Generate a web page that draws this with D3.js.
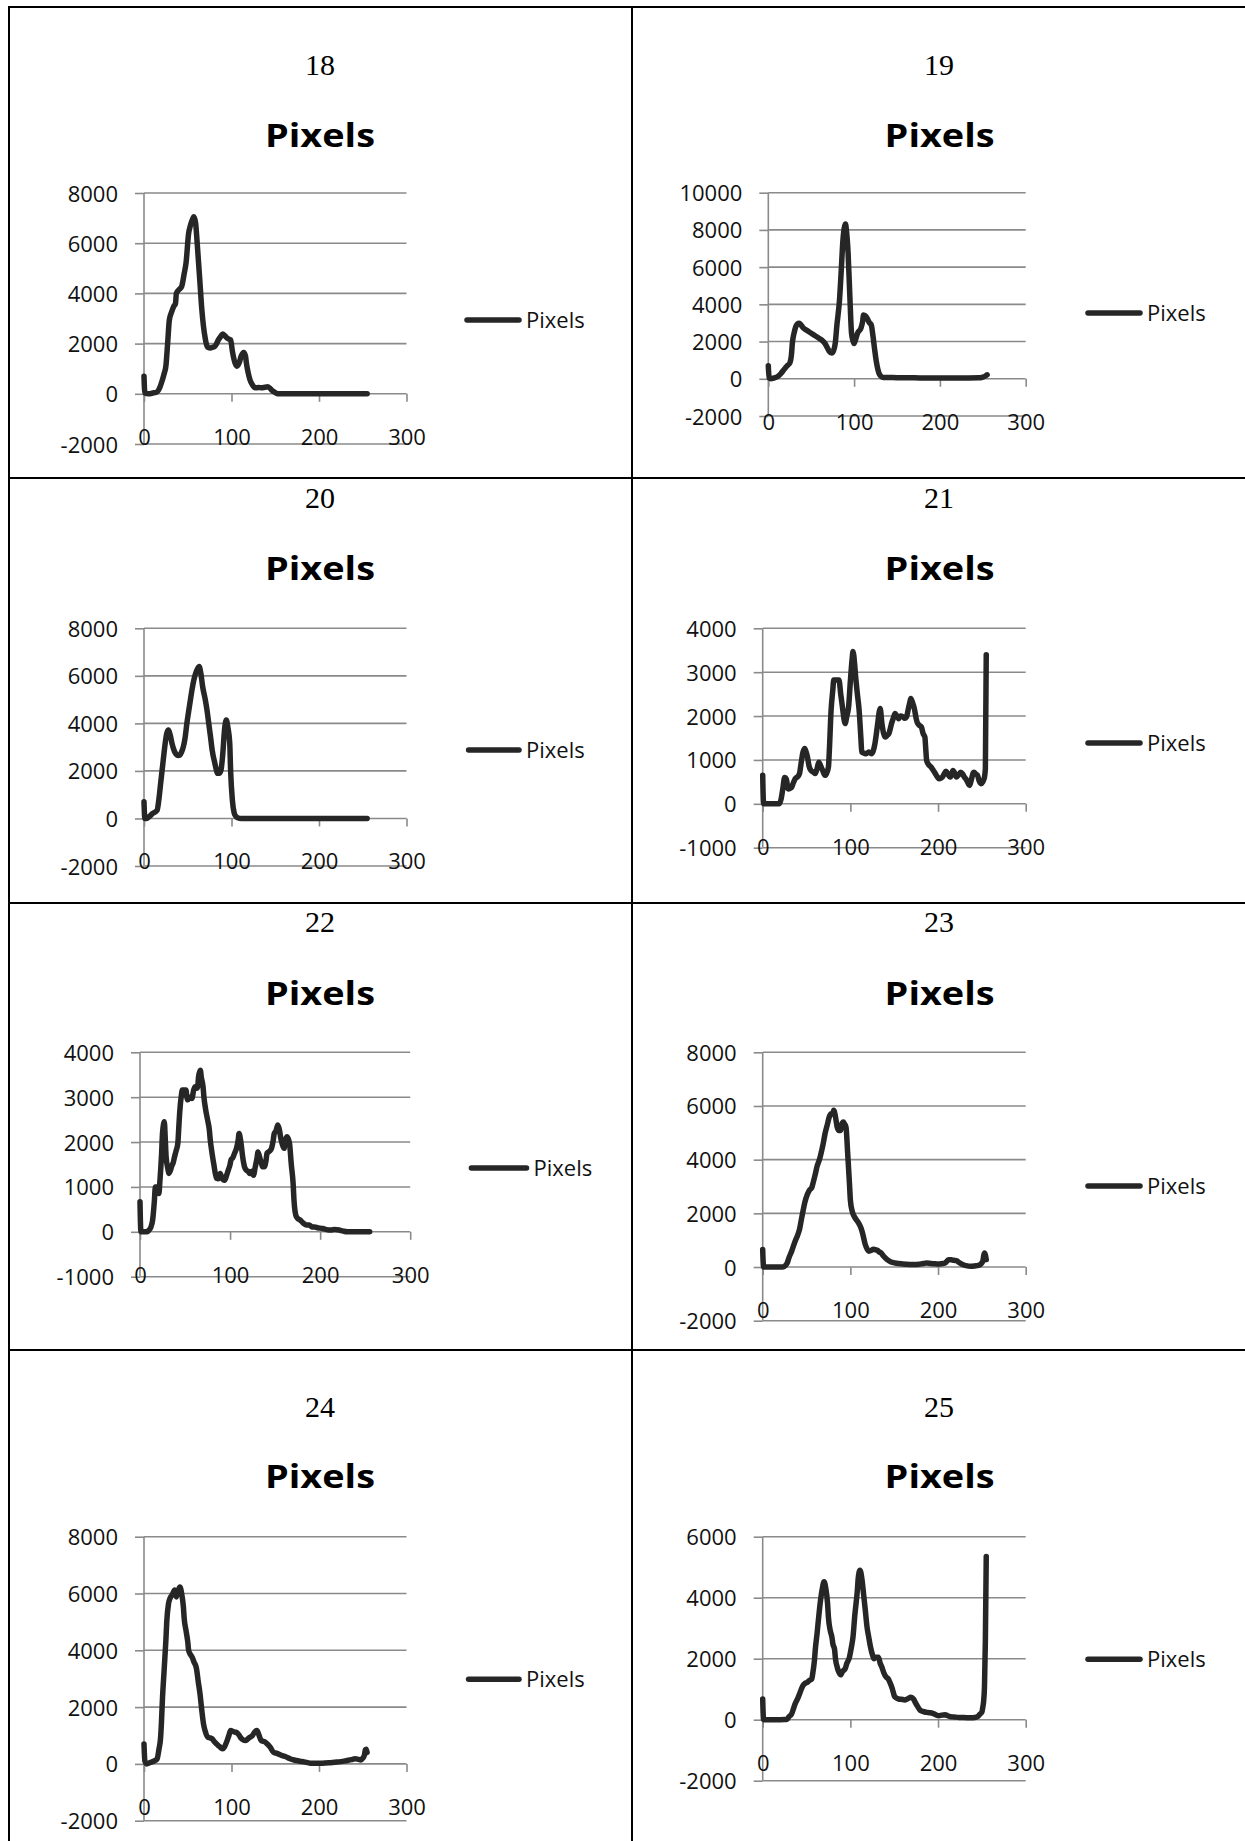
<!DOCTYPE html>
<html>
<head>
<meta charset="utf-8">
<script src="https://cdn.jsdelivr.net/npm/d3@7"></script>
<style>
  body { margin: 0; background: #fff; }
  svg { display: block; }
</style>
</head>
<body>
<svg id="chart" width="1245" height="1841"></svg>
<script>
// ---------------- DATA ----------------
const seriesName = "Pixels";
const panelNumbers = ["18", "19", "20", "21", "22", "23", "24", "25"];
const xTicks = [0, 100, 200, 300];

const yTicks18 = [-2000, 0, 2000, 4000, 6000, 8000];
const yTicks19 = [-2000, 0, 2000, 4000, 6000, 8000, 10000];
const yTicks20 = [-2000, 0, 2000, 4000, 6000, 8000];
const yTicks21 = [-1000, 0, 1000, 2000, 3000, 4000];
const yTicks22 = [-1000, 0, 1000, 2000, 3000, 4000];
const yTicks23 = [-2000, 0, 2000, 4000, 6000, 8000];
const yTicks24 = [-2000, 0, 2000, 4000, 6000, 8000];
const yTicks25 = [-2000, 0, 2000, 4000, 6000];

// [grey level, pixel count]
const pixels18 = [[0,700],[1,30],[5,0],[10,30],[15,80],[18,250],[20,440],[23,800],[25,1100],[27,2000],[29,2950],[32,3300],[34,3480],[36,3600],[37,4000],[40,4150],[43,4270],[46,4800],[48,5200],[51,6390],[53,6700],[55,6910],[57,7050],[59,6800],[60,6390],[62,5400],[64,4400],[66,3400],[68,2680],[70,2200],[71,2020],[73,1850],[76,1820],[78,1850],[81,1890],[83,2000],[85,2150],[88,2300],[90,2380],[92,2330],[95,2220],[97,2180],[99,2150],[101,1700],[104,1230],[106,1100],[109,1250],[111,1500],[114,1650],[116,1500],[117,1230],[119,850],[121,570],[124,350],[127,240],[131,250],[134,240],[138,260],[141,280],[144,220],[146,145],[150,50],[153,0],[180,0],[210,0],[240,0],[255,0]];

const pixels19 = [[0,700],[1,50],[3,0],[7,50],[11,125],[15,300],[18,480],[22,700],[25,840],[27,1300],[28,1900],[30,2450],[32,2800],[34,2950],[36,2990],[38,2900],[41,2720],[45,2600],[50,2450],[55,2300],[59,2180],[63,2050],[66,1900],[69,1650],[71,1470],[74,1380],[76,1500],[78,1900],[80,2900],[83,4240],[85,5800],[87,7460],[89,8200],[90,8320],[91,8000],[93,6750],[95,4500],[97,2450],[99,2000],[100,1900],[102,2150],[104,2450],[108,2720],[110,3100],[111,3430],[113,3380],[115,3260],[118,3000],[120,2900],[122,2300],[124,1550],[126,900],[129,300],[131,150],[134,70],[150,60],[170,50],[190,40],[210,40],[230,45],[245,50],[250,90],[253,150],[255,215]];

const pixels20 = [[0,700],[1,0],[3,0],[6,80],[10,210],[15,350],[17,800],[19,1470],[22,2460],[24,3100],[26,3580],[28,3720],[30,3500],[32,3160],[34,2900],[36,2740],[39,2650],[41,2670],[43,2800],[45,3020],[47,3400],[49,4000],[51,4500],[53,4980],[55,5450],[57,5830],[60,6200],[63,6390],[65,6100],[67,5550],[70,5000],[72,4560],[74,4000],[76,3440],[78,2850],[81,2320],[83,2000],[84,1900],[86,1900],[88,2040],[90,2700],[92,3720],[94,4140],[96,3800],[98,3160],[99,2000],[101,770],[103,250],[104,140],[107,30],[111,0],[150,0],[200,0],[255,0]];

const pixels21 = [[0,650],[1,0],[5,0],[10,0],[15,0],[19,0],[21,110],[23,350],[25,600],[27,560],[29,340],[31,350],[33,380],[35,480],[37,570],[40,620],[42,690],[44,950],[46,1180],[48,1260],[50,1150],[51,1070],[53,850],[55,760],[58,720],[60,690],[62,800],[64,950],[66,870],[68,780],[71,650],[73,700],[75,840],[76,1200],[78,2130],[80,2600],[81,2820],[84,2820],[87,2820],[89,2500],[91,2200],[93,1900],[94,1830],[96,2000],[98,2210],[100,2800],[102,3300],[103,3470],[105,3150],[106,2900],[108,2500],[110,2130],[112,1500],[113,1180],[116,1150],[118,1140],[121,1180],[124,1140],[126,1200],[128,1370],[131,1800],[133,2100],[134,2170],[136,1830],[138,1600],[140,1520],[142,1560],[144,1600],[146,1750],[147,1830],[149,1950],[151,2060],[153,2000],[155,1940],[157,2000],[160,1980],[162,1950],[164,1980],[166,2150],[168,2330],[169,2400],[171,2300],[173,2170],[175,1950],[176,1870],[178,1800],[181,1750],[183,1600],[185,1520],[186,1250],[187,990],[189,900],[192,840],[194,780],[196,720],[199,620],[201,570],[203,580],[205,610],[207,680],[209,740],[210,720],[212,650],[214,610],[216,700],[217,760],[219,700],[221,610],[223,650],[226,720],[228,680],[230,610],[232,560],[234,480],[236,420],[238,550],[240,700],[241,720],[243,680],[245,650],[247,520],[249,460],[251,500],[253,610],[254,800],[255,3400]];

const pixels22 = [[0,670],[1,0],[4,0],[8,0],[10,40],[12,100],[14,260],[16,700],[17,1000],[19,1000],[21,855],[22,1100],[24,1750],[25,2200],[27,2450],[28,2100],[29,1670],[31,1400],[32,1300],[34,1380],[35,1450],[37,1550],[38,1640],[40,1800],[42,1970],[43,2300],[44,2640],[46,3050],[47,3160],[49,3160],[51,3160],[52,3000],[53,2940],[55,3000],[58,2970],[59,3100],[61,3230],[63,3200],[64,3230],[65,3450],[67,3600],[68,3450],[70,3230],[71,3000],[73,2710],[75,2500],[77,2270],[78,2050],[80,1750],[82,1500],[85,1190],[87,1180],[89,1300],[91,1200],[94,1150],[96,1250],[98,1375],[100,1500],[101,1600],[103,1650],[105,1750],[107,1850],[109,2040],[110,2190],[112,2000],[114,1670],[116,1450],[118,1375],[120,1350],[122,1300],[124,1350],[126,1260],[128,1450],[130,1650],[131,1780],[133,1650],[135,1520],[136,1450],[138,1450],[140,1600],[141,1750],[144,1800],[146,1860],[148,2050],[149,2190],[151,2250],[153,2380],[155,2250],[156,2120],[158,1950],[160,1860],[161,2000],[163,2120],[165,2050],[166,1970],[168,1500],[170,1080],[171,700],[173,370],[175,300],[178,260],[181,200],[185,150],[188,150],[191,110],[194,110],[197,90],[203,75],[207,50],[212,40],[216,50],[221,40],[225,20],[230,0],[240,0],[255,0]];

const pixels23 = [[0,650],[1,0],[5,0],[10,0],[15,0],[20,0],[24,10],[26,60],[28,150],[30,350],[33,590],[35,780],[37,960],[40,1200],[42,1400],[44,1750],[46,2090],[48,2400],[51,2710],[53,2850],[56,2960],[58,3200],[60,3460],[62,3750],[65,4030],[67,4300],[69,4590],[71,4950],[74,5340],[76,5600],[78,5710],[80,5700],[81,5840],[83,5600],[85,5210],[87,5090],[89,5090],[90,5300],[92,5400],[93,5350],[95,5210],[97,4200],[99,3090],[100,2500],[102,2090],[105,1850],[108,1710],[110,1600],[112,1460],[114,1250],[117,840],[119,680],[121,590],[124,620],[126,660],[128,650],[131,620],[133,560],[135,525],[138,400],[142,275],[145,210],[148,170],[151,150],[155,130],[160,110],[165,100],[170,90],[174,90],[178,100],[183,130],[187,150],[192,130],[197,120],[201,110],[204,125],[208,150],[210,210],[212,275],[215,270],[218,250],[221,240],[224,170],[228,90],[232,50],[237,25],[242,40],[246,60],[249,120],[251,210],[252,400],[253,525],[254,450],[255,275]];

const pixels24 = [[0,700],[1,100],[3,0],[7,50],[11,95],[15,180],[17,500],[19,940],[20,1500],[21,2230],[23,3300],[25,4350],[26,5000],[28,5640],[30,5850],[32,5940],[33,6000],[35,6120],[37,5880],[39,6100],[41,6230],[43,6000],[45,5530],[46,5100],[48,4700],[50,4300],[51,4000],[53,3850],[55,3760],[57,3600],[60,3350],[62,2900],[64,2470],[66,1900],[68,1410],[70,1150],[73,940],[75,920],[78,880],[80,800],[83,700],[86,620],[88,560],[90,530],[92,600],[95,820],[97,1000],[99,1180],[101,1150],[104,1120],[106,1100],[109,1000],[111,900],[113,850],[116,820],[118,860],[121,940],[124,1000],[126,1100],[129,1180],[131,1050],[134,820],[138,780],[141,700],[144,600],[148,410],[152,370],[158,290],[162,250],[167,180],[170,150],[174,120],[178,95],[183,70],[190,25],[197,20],[204,25],[211,40],[218,60],[225,80],[232,120],[237,150],[241,180],[245,160],[248,140],[250,200],[252,320],[253,500],[254,520],[255,400]];

const pixels25 = [[0,680],[1,0],[5,0],[10,0],[15,0],[20,0],[25,5],[28,20],[30,100],[33,190],[35,350],[37,520],[40,700],[42,840],[44,1000],[46,1120],[48,1180],[51,1230],[53,1280],[56,1340],[57,1500],[59,1940],[60,2300],[62,2820],[64,3400],[66,3920],[68,4300],[70,4520],[72,4300],[74,3810],[75,3350],[77,2930],[79,2700],[80,2490],[82,2300],[83,2000],[85,1720],[87,1550],[89,1470],[91,1580],[94,1670],[96,1850],[99,2050],[101,2350],[103,2710],[105,3400],[108,4250],[109,4650],[111,4900],[113,4650],[115,4140],[117,3600],[119,3040],[121,2700],[123,2380],[125,2150],[127,2000],[129,2050],[132,2050],[134,1850],[136,1720],[138,1550],[141,1390],[143,1350],[145,1230],[148,1000],[150,790],[152,720],[155,680],[158,670],[162,650],[165,680],[169,735],[172,680],[174,570],[177,420],[180,300],[184,260],[187,240],[190,230],[194,210],[197,170],[201,130],[204,150],[208,165],[211,130],[214,100],[218,90],[224,75],[228,70],[233,65],[237,65],[242,75],[245,100],[248,190],[250,250],[251,400],[252,600],[253,1100],[254,2600],[255,5350]];

const seriesList = [pixels18, pixels19, pixels20, pixels21, pixels22, pixels23, pixels24, pixels25];
const yTickList = [yTicks18, yTicks19, yTicks20, yTicks21, yTicks22, yTicks23, yTicks24, yTicks25];

// ---------------- LAYOUT ----------------
const layout = [
  {px:[144,406.5],   py:[193,444],       num:[320,75],     title:[320,147],     leg:[467,519,320]},
  {px:[768.3,1025.7],py:[192.7,416],     num:[939,75],     title:[939.6,147],   leg:[1088,1140,313]},
  {px:[144,406.5],   py:[628.3,866],     num:[320,508],    title:[320,580],     leg:[468.6,519,750]},
  {px:[762.7,1025.7],py:[628.3,847.7],   num:[939,508],    title:[939.6,580],   leg:[1088,1140,743]},
  {px:[140,410.2],   py:[1052.3,1276.7], num:[320,931.7],  title:[320,1005],    leg:[471.4,526.5,1168]},
  {px:[762.7,1025.7],py:[1052.3,1320.7], num:[939,931.7],  title:[939.6,1005],  leg:[1088,1140,1186]},
  {px:[144,406.5],   py:[1536.7,1820.7], num:[320,1416.7], title:[320,1488.3],  leg:[468.6,519,1679.3]},
  {px:[762.7,1025.7],py:[1536.7,1780.7], num:[939,1416.7], title:[939.6,1488.3],leg:[1088,1140,1659.3]}
];

const svg = d3.select("#chart");
const gridColor = "#8a8a8a";
const lineColor = "#262626";
const sansFont = "'Open Sans', 'Noto Sans', sans-serif";
const fmt = d => String(d);   // plain hyphen-minus like the reference

// table borders
const border = svg.append("g").attr("stroke", "#000").attr("stroke-width", 2);
[7, 478, 903, 1350].forEach(y => border.append("line").attr("x1", 8).attr("x2", 1245).attr("y1", y).attr("y2", y));
[9, 632].forEach(x => border.append("line").attr("x1", x).attr("x2", x).attr("y1", 6).attr("y2", 1841));

layout.forEach((L, i) => {
  const data = seriesList[i];
  const ticks = yTickList[i];
  const g = svg.append("g");

  const x = d3.scaleLinear().domain([0, 300]).range(L.px);
  const y = d3.scaleLinear().domain([d3.min(ticks), d3.max(ticks)]).range([L.py[1], L.py[0]]);

  // panel number
  g.append("text")
    .attr("x", L.num[0]).attr("y", L.num[1])
    .attr("text-anchor", "middle")
    .style("font-family", "'Liberation Serif', 'Times New Roman', serif")
    .style("font-size", "30px").attr("fill", "#000")
    .text(panelNumbers[i]);

  // chart title
  g.append("text")
    .attr("x", L.title[0]).attr("y", L.title[1])
    .attr("text-anchor", "middle")
    .attr("textLength", 110).attr("lengthAdjust", "spacingAndGlyphs")
    .style("font-family", sansFont).style("font-weight", "700")
    .style("font-size", "33px").attr("fill", "#000")
    .text(seriesName);

  // horizontal gridlines
  g.append("g").selectAll("line").data(ticks).join("line")
    .attr("x1", x(0)).attr("x2", x(300))
    .attr("y1", d => y(d)).attr("y2", d => y(d))
    .attr("stroke", gridColor).attr("stroke-width", 1.6);

  // y axis
  const yAxis = g.append("g").attr("transform", `translate(${x(0)},0)`)
    .call(d3.axisLeft(y).tickValues(ticks).tickFormat(fmt).tickSize(9).tickSizeOuter(0).tickPadding(17));
  yAxis.select(".domain").remove();
  yAxis.selectAll(".tick line").attr("stroke", gridColor).attr("stroke-width", 1.6);
  yAxis.selectAll(".tick text").attr("fill", "#111").attr("dy", null)
    .attr("y", 8)
    .style("font-family", sansFont).style("font-size", "22px");
  g.append("line")
    .attr("x1", x(0)).attr("x2", x(0)).attr("y1", y.range()[1]).attr("y2", y.range()[0])
    .attr("stroke", gridColor).attr("stroke-width", 1.6);

  // x axis (crosses at 0)
  const xAxis = g.append("g").attr("transform", `translate(0,${y(0)})`)
    .call(d3.axisBottom(x).tickValues(xTicks).tickFormat(fmt).tickSize(8).tickSizeOuter(0));
  xAxis.select(".domain").remove();
  xAxis.selectAll(".tick line").attr("stroke", gridColor).attr("stroke-width", 1.6);
  xAxis.selectAll(".tick text").attr("fill", "#111").attr("dy", null).attr("y", 51)
    .style("font-family", sansFont).style("font-size", "22px");

  // series line
  const line = d3.line().x(d => x(d[0])).y(d => y(d[1])).curve(d3.curveMonotoneX);
  g.append("path").datum(data)
    .attr("d", line)
    .attr("fill", "none").attr("stroke", lineColor)
    .attr("stroke-width", 5.5).attr("stroke-linejoin", "round").attr("stroke-linecap", "round");

  // legend
  g.append("line")
    .attr("x1", L.leg[0]).attr("x2", L.leg[1]).attr("y1", L.leg[2]).attr("y2", L.leg[2])
    .attr("stroke", lineColor).attr("stroke-width", 5.5).attr("stroke-linecap", "round");
  g.append("text")
    .attr("x", L.leg[1] + 7).attr("y", L.leg[2] + 8)
    .style("font-family", sansFont).style("font-size", "22px").attr("fill", "#111")
    .text(seriesName);
});
</script>
</body>
</html>
